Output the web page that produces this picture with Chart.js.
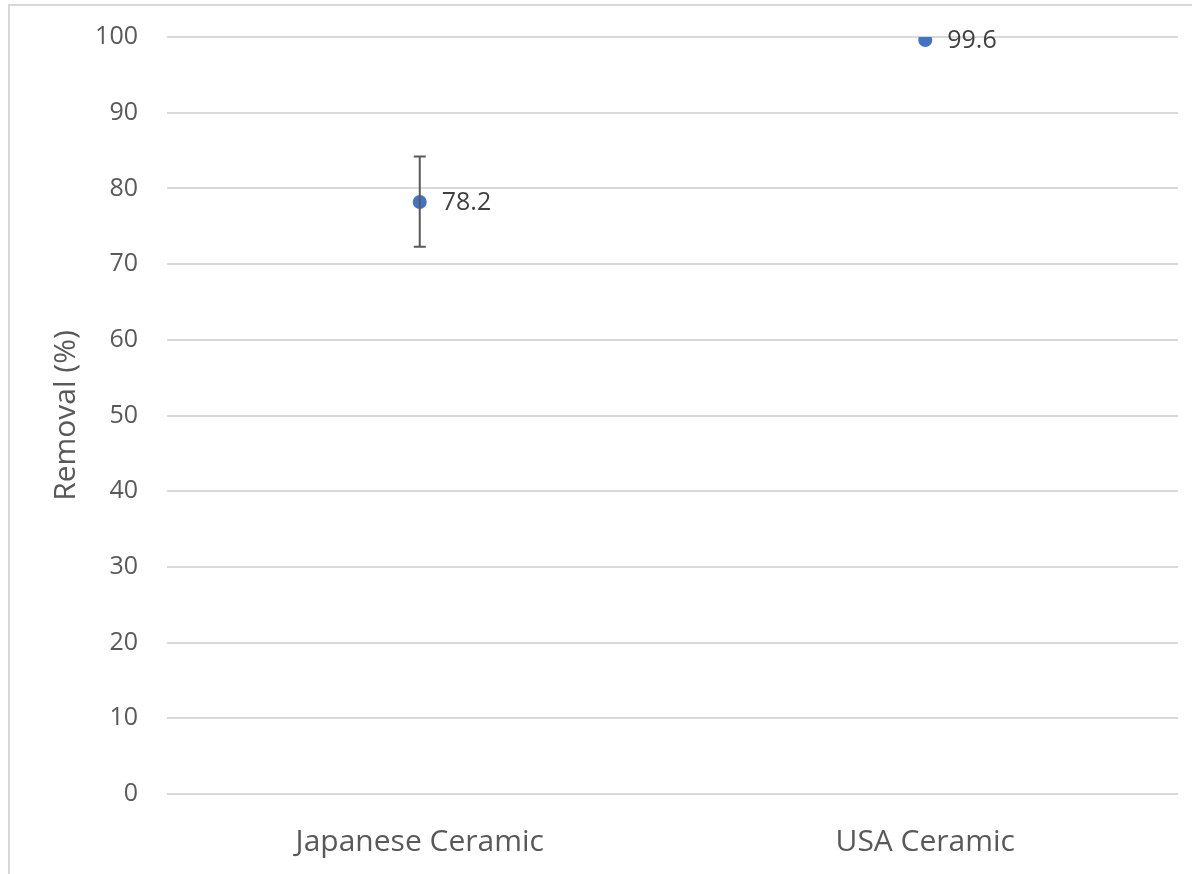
<!DOCTYPE html>
<html>
<head>
<meta charset="utf-8">
<script src="https://cdn.jsdelivr.net/npm/chart.js@4.4.1/dist/chart.umd.min.js"></script>
<style>
  html, body { margin: 0; padding: 0; background: #fff; }
  #wrap { position: relative; width: 1192px; height: 874px; overflow: hidden; }
  #frame { position: absolute; left: 8px; top: 4px; width: 1300px; height: 1000px; border-left: 2px solid #d9d9d9; border-top: 2px solid #d9d9d9; box-sizing: border-box; }
  canvas { position: absolute; left: 0; top: 0; }
</style>
</head>
<body>
<div id="wrap">
  <div id="frame"></div>
  <canvas id="c" width="1192" height="874"></canvas>
</div>
<script>
const categories = ["Japanese Ceramic", "USA Ceramic"];
const removal = [78.2, 99.6];
const errLow = [72.3, 99.6];
const errHigh = [84.2, 99.6];
const yTicks = [0, 10, 20, 30, 40, 50, 60, 70, 80, 90, 100];

const FONT = "'Open Sans', 'Noto Sans', sans-serif";

const errorBars = {
  id: 'errorBars',
  afterDatasetsDraw(chart) {
    const ctx = chart.ctx;
    const x = chart.scales.x, y = chart.scales.y;
    ctx.save();
    ctx.strokeStyle = '#595959';
    ctx.lineWidth = 2;
    removal.forEach((v, i) => {
      if (errHigh[i] === errLow[i]) return;
      const px = x.getPixelForValue(i);
      const y1 = y.getPixelForValue(errLow[i]);
      const y2 = y.getPixelForValue(errHigh[i]);
      ctx.beginPath();
      ctx.moveTo(px, y1); ctx.lineTo(px, y2);
      ctx.moveTo(px - 6, y1); ctx.lineTo(px + 6, y1);
      ctx.moveTo(px - 6, y2); ctx.lineTo(px + 6, y2);
      ctx.stroke();
    });
    ctx.restore();
  }
};

const dataLabels = {
  id: 'dataLabels',
  afterDraw(chart) {
    const ctx = chart.ctx;
    const meta = chart.getDatasetMeta(0);
    ctx.save();
    ctx.fillStyle = '#404040';
    ctx.font = "25px " + FONT;
    ctx.textAlign = 'left';
    ctx.textBaseline = 'middle';
    meta.data.forEach((pt, i) => {
      ctx.fillText(removal[i].toFixed(1), pt.x + 22, pt.y + 1);
    });
    ctx.restore();
  }
};

new Chart(document.getElementById('c'), {
  type: 'line',
  data: {
    labels: categories,
    datasets: [{
      data: removal,
      showLine: false,
      backgroundColor: '#4472C4',
      borderColor: '#4472C4',
      pointRadius: 7,
      pointHoverRadius: 7,
      pointBorderWidth: 0
    }]
  },
  options: {
    responsive: false,
    animation: false,
    events: [],
    layout: { padding: { top: 37, right: 14, left: 0, bottom: 0 } },
    plugins: { legend: { display: false }, tooltip: { enabled: false } },
    scales: {
      x: {
        type: 'category',
        offset: true,
        grid: { display: false, drawTicks: false },
        border: { display: false },
        ticks: { color: '#595959', font: { family: FONT, size: 30 }, padding: 30 },
        afterFit(s) { s.height = 80; }
      },
      y: {
        min: 0, max: 100,
        afterBuildTicks(s) { s.ticks = yTicks.map(v => ({ value: v })); },
        grid: { color: '#d9d9d9', lineWidth: 2, drawTicks: false },
        border: { display: false },
        ticks: { color: '#595959', font: { family: FONT, size: 25 }, padding: 29 },
        title: { display: true, text: 'Removal (%)', color: '#595959', font: { family: FONT, size: 30 }, padding: { top: 48, bottom: 0 } },
        afterFit(s) { s.width = 167; s.paddingTop = 0; s.paddingBottom = 0; }
      }
    }
  },
  plugins: [errorBars, dataLabels]
});
</script>
</body>
</html>
